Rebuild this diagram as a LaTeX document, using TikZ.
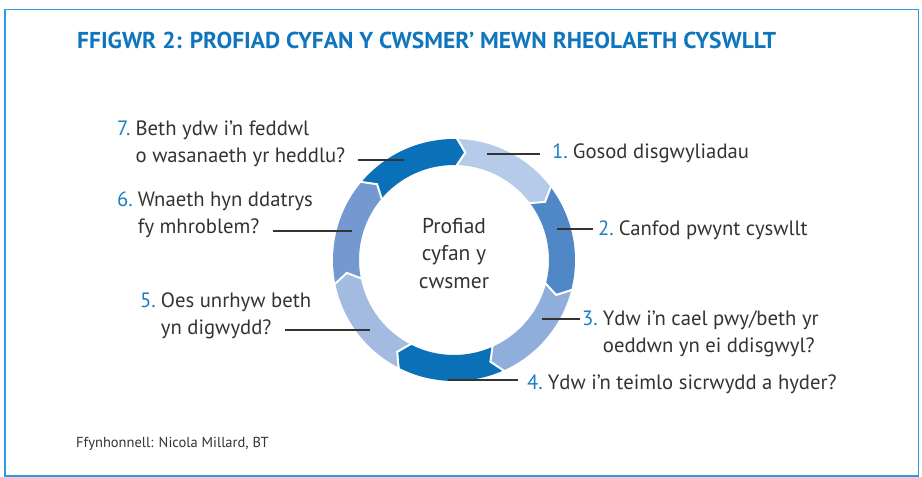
\documentclass[tikz,border=0pt]{standalone}
\usepackage{fontspec}
\setmainfont{PT Sans}
\definecolor{frameblue}{HTML}{2E9AE0}
\definecolor{titleblue}{HTML}{0F75BC}
\definecolor{numblue}{HTML}{1B7EC2}
\definecolor{ink}{HTML}{333333}
\definecolor{segA}{HTML}{B6CAE9}
\definecolor{segB}{HTML}{4F87C7}
\definecolor{segC}{HTML}{8FAEDC}
\definecolor{segD}{HTML}{0A71B8}
\definecolor{segE}{HTML}{A3BBE1}
\definecolor{segF}{HTML}{7399D0}
\definecolor{segG}{HTML}{0A71B8}
\newcommand{\nm}[1]{\textcolor{numblue}{#1}}
\newcommand{\lbl}[2]{\begin{tabular}[t]{@{}l@{\hspace{5pt}}l@{}}\nm{#1} & #2\end{tabular}}
\begin{document}
\begin{tikzpicture}[x=1pt,y=-1pt,
  labeltext/.style={anchor=base west, inner sep=0pt, text=ink,
    font=\fontsize{20.7}{27.5}\selectfont},
  leader/.style={draw=ink, line width=1.1pt},
  frame/.style={draw=frameblue, line width=1.5pt}]
\useasboundingbox (0,0) rectangle (922,477);
\draw[frame] (5,9.5) rectangle (918.5,476);

% title and source
\node[anchor=base west, inner sep=0pt, text=titleblue,
      font=\fontsize{23}{27}\selectfont\bfseries] (title) at (77,48)
  {\scalebox{1.02}[1]{FFIGWR 2: PROFIAD CYFAN Y CWSMER’ MEWN RHEOLAETH CYSWLLT}};
\node[anchor=base west, inner sep=0pt, text=ink,
      font=\fontsize{14.5}{17}\selectfont] (source) at (76,447)
  {Ffynhonnell: Nicola Millard, BT};

% ring of seven arrow segments, running clockwise
\begin{scope}[shift={(454,260)}, x=1pt, y=1pt]
  \foreach \k/\c in {1/segA,2/segB,3/segC,4/segD,5/segE,6/segF,7/segG}{
    \pgfmathsetmacro{\a}{89-51.4286*(\k-1)}
    \pgfmathsetmacro{\b}{\a-51.4286}
    \fill[\c] (\a:121) arc[start angle=\a, end angle=\b, radius=121]
      -- (\b-5:108) -- (\b:95) arc[start angle=\b, end angle=\a, radius=95]
      -- (\a-5:108) -- cycle;
  }
  \foreach \k in {1,...,7}{
    \pgfmathsetmacro{\b}{89-51.4286*\k}
    \draw[white, line width=2pt, line join=miter] (\b:123) -- (\b-5:108) -- (\b:93);
  }
\end{scope}

% centre text
\node[align=center, inner sep=0pt, text=ink, anchor=base,
      font=\fontsize{21.5}{27.5}\selectfont] (centre) at (454,233)
  {\begin{tabular}[t]{@{}c@{}}Profiad\\cyfan y\\cwsmer\end{tabular}};

% labels
\node[labeltext] (lbl1) at (552,158) {\lbl{1.}{Gosod disgwyliadau}};
\node[labeltext] (lbl2) at (598,235) {\lbl{2.}{Canfod pwynt cyswllt}};
\node[labeltext] (lbl3) at (582,325) {\lbl{3.}{Ydw i’n cael pwy/beth yr\\ & oeddwn yn ei ddisgwyl?}};
\node[labeltext] (lbl4) at (527,389) {\lbl{4.}{Ydw i’n teimlo sicrwydd a hyder?}};
\node[labeltext] (lbl5) at (140,307) {\lbl{5.}{Oes unrhyw beth\\ & yn digwydd?}};
\node[labeltext] (lbl6) at (117,206) {\lbl{6.}{Wnaeth hyn ddatrys\\ & fy mhroblem?}};
\node[labeltext] (lbl7) at (117,135) {\lbl{7.}{Beth ydw i’n feddwl\\ & o wasanaeth yr heddlu?}};

% leader lines: label side -> ring side
\coordinate (l1) at (540,154); \coordinate (r1) at (487,154);
\coordinate (l2) at (593,229); \coordinate (r2) at (557,229);
\coordinate (l3) at (580,319); \coordinate (r3) at (542,319);
\coordinate (l4) at (518,380); \coordinate (r4) at (448,380);
\coordinate (l5) at (285,330); \coordinate (r5) at (370,330);
\coordinate (l6) at (273,231); \coordinate (r6) at (352,231);
\coordinate (l7) at (358,160); \coordinate (r7) at (404,160);
\foreach \i in {1,...,7}{\draw[leader] (l\i) -- (r\i);}
\end{tikzpicture}
\end{document}
